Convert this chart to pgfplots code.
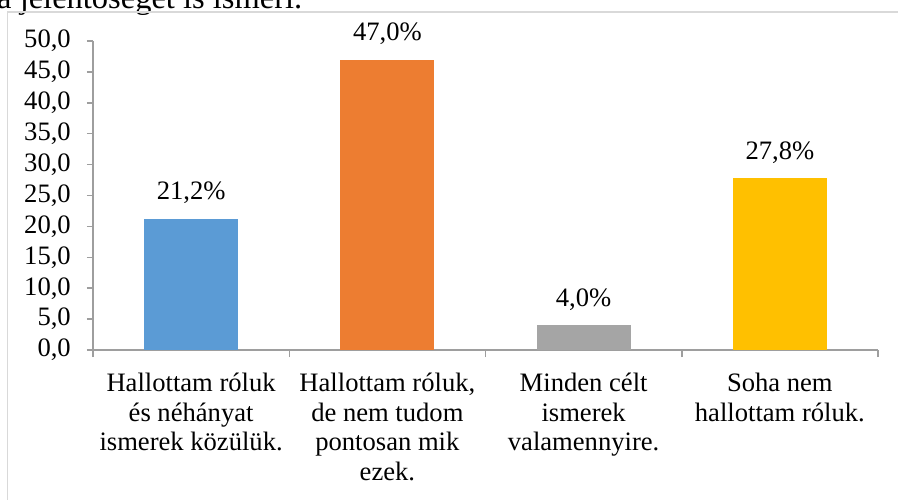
\documentclass[border=0pt]{standalone}
\usepackage{pgfplots}
\pgfplotsset{compat=1.18}
\usepackage{fontspec}
\setmainfont{Liberation Serif}
\definecolor{cblue}{HTML}{5B9BD5}
\definecolor{corange}{HTML}{ED7D31}
\definecolor{cgray}{HTML}{A5A5A5}
\definecolor{cyellow}{HTML}{FFC000}
\definecolor{axgray}{HTML}{9E9E9E}
\definecolor{framegray}{HTML}{D9D9D9}
\begin{document}
\begin{tikzpicture}
\path[use as bounding box] (0pt,0pt) rectangle (898pt,499pt);
\clip (0pt,0pt) rectangle (898pt,499pt);
\node[anchor=base west, inner sep=0pt, font=\fontsize{32.5}{36}\selectfont] at (-3pt,490pt) {a jelentőséget is ismeri.};
\draw[framegray, line width=1.5pt] (7.5pt,-2pt) -- (7.5pt,487pt) -- (900pt,487pt);
\begin{axis}[
  at={(93pt,149pt)}, anchor=south west,
  scale only axis, width=785pt, height=309pt,
  xmin=-0.5, xmax=3.5, ymin=0, ymax=50,
  axis lines*=left,
  axis line style={-, draw=axgray, line width=1.5pt},
  tick align=outside,
  major tick length=6pt,
  minor tick length=7pt,
  tick style={draw=axgray, line width=1.5pt},
  major x tick style={draw=none},
  ytick={0,5,...,50},
  xtick={0,1,2,3},
  minor xtick={-0.5,0.5,1.5,2.5,3.5},
  xticklabels={{Hallottam róluk\\és néhányat\\ismerek közülük.},{Hallottam róluk,\\de nem tudom\\pontosan mik\\ezek.},{Minden célt\\ismerek\\valamennyire.},{Soha nem\\hallottam róluk.}},
  xticklabel style={align=center, font=\fontsize{26.6}{29.5}\selectfont, anchor=north, inner sep=0pt, yshift=-17pt},
  yticklabel={\pgfmathprintnumber[fixed,fixed zerofill,precision=1,use comma]{\tick}},
  yticklabel style={font=\fontsize{26.6}{29.5}\selectfont, anchor=east, inner sep=0pt, xshift=-16pt},
  /pgf/number format/assume math mode=true,
  point meta=explicit symbolic,
  nodes near coords,
  every node near coord/.append style={anchor=base, inner sep=0pt, yshift=19pt, font=\fontsize{26.6}{29.5}\selectfont, text=black},
  clip=false,
]
\addplot[ybar, bar width=94pt, bar shift=0pt, fill=cblue, draw=none] coordinates {(0,21.2) [21,2\%]};
\addplot[ybar, bar width=94pt, bar shift=0pt, fill=corange, draw=none] coordinates {(1,47.0) [47,0\%]};
\addplot[ybar, bar width=94pt, bar shift=0pt, fill=cgray, draw=none] coordinates {(2,4.0) [4,0\%]};
\addplot[ybar, bar width=94pt, bar shift=0pt, fill=cyellow, draw=none] coordinates {(3,27.8) [27,8\%]};
\end{axis}
\end{tikzpicture}
\end{document}
